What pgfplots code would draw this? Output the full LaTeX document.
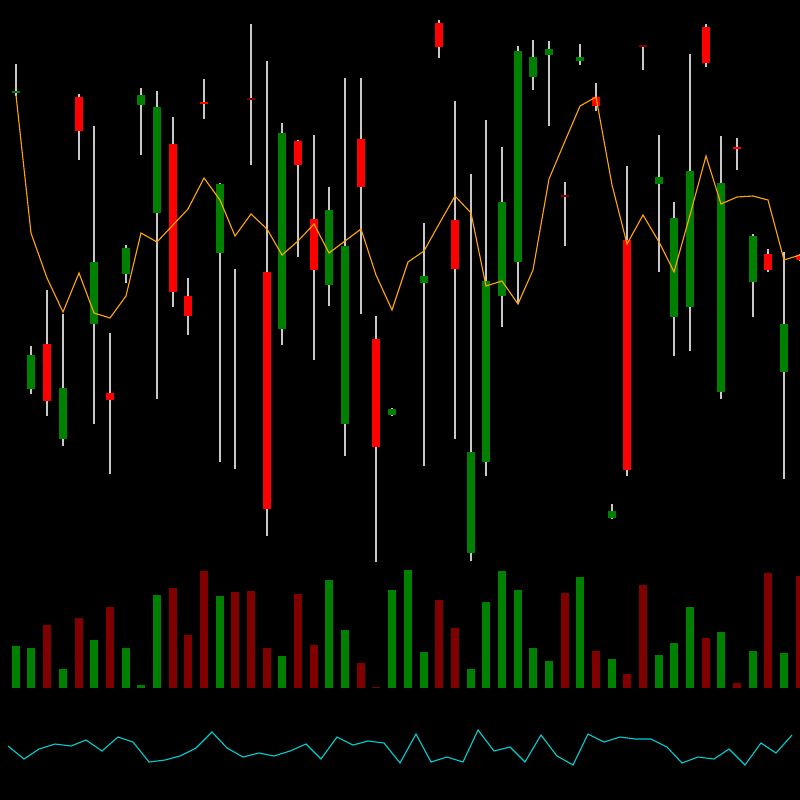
\documentclass[border=0pt]{standalone}
\usepackage{pgfplots}
\pgfplotsset{compat=1.18}
\definecolor{cgreen}{RGB}{0,128,0}
\definecolor{cred}{RGB}{255,0,0}
\definecolor{cdred}{RGB}{128,0,0}
\definecolor{cwick}{RGB}{200,200,200}
\definecolor{corange}{RGB}{255,165,0}
\definecolor{ccyan}{RGB}{0,206,209}
\begin{document}
\begin{tikzpicture}
\begin{axis}[
  scale only axis, width=10cm, height=10cm,
  xmin=0, xmax=800, ymin=0, ymax=800, y dir=reverse,
  axis background/.style={fill=black},
  axis line style={draw=none},
  xtick=\empty, ytick=\empty,
  unbounded coords=jump,
  clip=true,
]
% wicks
\addplot[cwick, line width=0.15mm, mark=none] coordinates {
(16,64)(16,96)(16,nan)
(31,346)(31,394)(31,nan)
(47,290)(47,416)(47,nan)
(63,314)(63,446)(63,nan)
(79,94)(79,160)(79,nan)
(94,126)(94,424)(94,nan)
(110,333)(110,474)(110,nan)
(126,245)(126,283)(126,nan)
(141,88)(141,155)(141,nan)
(157,91)(157,399)(157,nan)
(173,117)(173,307)(173,nan)
(188,278)(188,335)(188,nan)
(204,79)(204,119)(204,nan)
(220,183)(220,462)(220,nan)
(235,269)(235,469)(235,nan)
(251,24)(251,165)(251,nan)
(267,61)(267,536)(267,nan)
(282,123)(282,345)(282,nan)
(298,140)(298,257)(298,nan)
(314,135)(314,360)(314,nan)
(329,187)(329,306)(329,nan)
(345,78)(345,456)(345,nan)
(361,78)(361,314)(361,nan)
(376,316)(376,562)(376,nan)
(392,408)(392,416)(392,nan)
(424,223)(424,466)(424,nan)
(439,20)(439,58)(439,nan)
(455,101)(455,439)(455,nan)
(471,174)(471,561)(471,nan)
(486,120)(486,476)(486,nan)
(502,147)(502,327)(502,nan)
(518,46)(518,304)(518,nan)
(533,40)(533,90)(533,nan)
(549,41)(549,126)(549,nan)
(565,182)(565,246)(565,nan)
(580,44)(580,65)(580,nan)
(596,83)(596,111)(596,nan)
(612,504)(612,519)(612,nan)
(627,166)(627,476)(627,nan)
(643,45)(643,70)(643,nan)
(659,135)(659,272)(659,nan)
(674,202)(674,356)(674,nan)
(690,54)(690,351)(690,nan)
(706,24)(706,67)(706,nan)
(721,136)(721,399)(721,nan)
(737,138)(737,170)(737,nan)
(753,234)(753,317)(753,nan)
(768,249)(768,272)(768,nan)
(784,252)(784,479)(784,nan)
(800,254)(800,261)
};
% green bodies
\addplot[cgreen, line width=1mm, line cap=butt, mark=none] coordinates {
(16,91)(16,93)(16,nan)
(31,355)(31,389)(31,nan)
(63,388)(63,439)(63,nan)
(94,262)(94,324)(94,nan)
(126,248)(126,274)(126,nan)
(141,95)(141,105)(141,nan)
(157,107)(157,213)(157,nan)
(220,184)(220,253)(220,nan)
(282,133)(282,329)(282,nan)
(329,210)(329,285)(329,nan)
(345,246)(345,424)(345,nan)
(392,409)(392,415)(392,nan)
(424,276)(424,283)(424,nan)
(471,452)(471,553)(471,nan)
(486,281)(486,462)(486,nan)
(502,202)(502,296)(502,nan)
(518,51)(518,262)(518,nan)
(533,57)(533,77)(533,nan)
(549,49)(549,55)(549,nan)
(580,57)(580,61)(580,nan)
(612,511)(612,518)(612,nan)
(659,177)(659,184)(659,nan)
(674,218)(674,317)(674,nan)
(690,171)(690,307)(690,nan)
(721,183)(721,392)(721,nan)
(753,236)(753,282)(753,nan)
(784,324)(784,372)
};
% red bodies
\addplot[cred, line width=1mm, line cap=butt, mark=none] coordinates {
(47,344)(47,401)(47,nan)
(79,97)(79,131)(79,nan)
(110,393)(110,400)(110,nan)
(173,144)(173,292)(173,nan)
(188,296)(188,316)(188,nan)
(204,102)(204,104)(204,nan)
(267,272)(267,509)(267,nan)
(298,141)(298,165)(298,nan)
(314,219)(314,270)(314,nan)
(361,139)(361,187)(361,nan)
(376,339)(376,447)(376,nan)
(439,23)(439,47)(439,nan)
(455,220)(455,269)(455,nan)
(596,97)(596,106)(596,nan)
(627,240)(627,470)(627,nan)
(706,27)(706,63)(706,nan)
(737,147)(737,149)(737,nan)
(768,254)(768,270)(768,nan)
(800,255)(800,260)
};
% dark red dojis
\addplot[cdred, line width=1mm, line cap=butt, mark=none] coordinates {
(251,98)(251,100)(251,nan)
(565,195)(565,197)(565,nan)
(643,45)(643,47)
};
% moving average
\addplot[corange, line width=0.14mm, mark=none] coordinates {
(16,95)(31,233)(47,278)(63,312)(79,273)(94,313)(110,318)(126,296)(141,233)
(157,242)(173,225)(188,209)(204,178)(220,200)(235,236)(251,214)(267,229)
(282,255)(298,241)(314,224)(329,253)(345,241)(361,229)(376,275)(392,310)
(408,262)(424,251)(439,224)(455,196)(471,213)(486,286)(502,281)(518,304)
(533,270)(549,179)(565,141)(580,106)(596,97)(612,185)(627,244)(643,215)
(659,242)(674,272)(690,215)(706,156)(721,204)(737,197)(753,196)(768,200)
(784,260)(800,255)
};
% volume green
\addplot[cgreen, line width=1mm, line cap=butt, mark=none] coordinates {
(16,688)(16,646)(16,nan)
(31,688)(31,648)(31,nan)
(63,688)(63,669)(63,nan)
(94,688)(94,640)(94,nan)
(126,688)(126,648)(126,nan)
(141,688)(141,685)(141,nan)
(157,688)(157,595)(157,nan)
(220,688)(220,596)(220,nan)
(282,688)(282,656)(282,nan)
(329,688)(329,580)(329,nan)
(345,688)(345,630)(345,nan)
(392,688)(392,590)(392,nan)
(408,688)(408,570)(408,nan)
(424,688)(424,652)(424,nan)
(471,688)(471,669)(471,nan)
(486,688)(486,602)(486,nan)
(502,688)(502,571)(502,nan)
(518,688)(518,590)(518,nan)
(533,688)(533,648)(533,nan)
(549,688)(549,661)(549,nan)
(580,688)(580,577)(580,nan)
(612,688)(612,659)(612,nan)
(659,688)(659,655)(659,nan)
(674,688)(674,643)(674,nan)
(690,688)(690,607)(690,nan)
(721,688)(721,632)(721,nan)
(753,688)(753,651)(753,nan)
(784,688)(784,653)
};
% volume red
\addplot[cdred, line width=1mm, line cap=butt, mark=none] coordinates {
(47,688)(47,625)(47,nan)
(79,688)(79,618)(79,nan)
(110,688)(110,607)(110,nan)
(173,688)(173,588)(173,nan)
(188,688)(188,635)(188,nan)
(204,688)(204,571)(204,nan)
(235,688)(235,592)(235,nan)
(251,688)(251,591)(251,nan)
(267,688)(267,648)(267,nan)
(298,688)(298,594)(298,nan)
(314,688)(314,645)(314,nan)
(361,688)(361,663)(361,nan)
(376,688)(376,687)(376,nan)
(439,688)(439,600)(439,nan)
(455,688)(455,628)(455,nan)
(565,688)(565,593)(565,nan)
(596,688)(596,651)(596,nan)
(627,688)(627,674)(627,nan)
(643,688)(643,585)(643,nan)
(706,688)(706,638)(706,nan)
(737,688)(737,683)(737,nan)
(768,688)(768,573)(768,nan)
(800,688)(800,576)
};
% oscillator
\addplot[ccyan, line width=0.14mm, mark=none] coordinates {
(8,746)(24,759)(39,749)(55,744)(71,746)(86,740)(102,751)(118,737)(133,742)
(149,762)(165,760)(180,756)(196,748)(212,732)(227,748)(243,757)(259,753)
(274,756)(290,751)(306,744)(321,759)(337,737)(353,745)(368,741)(384,743)
(400,763)(416,734)(431,762)(447,757)(463,762)(478,730)(494,751)(510,747)
(525,762)(541,735)(557,756)(573,765)(588,734)(604,742)(620,737)(635,739)
(651,739)(667,747)(682,763)(698,757)(714,759)(729,749)(745,765)(761,743)
(776,753)(792,735)
};
\end{axis}
\end{tikzpicture}
\end{document}
